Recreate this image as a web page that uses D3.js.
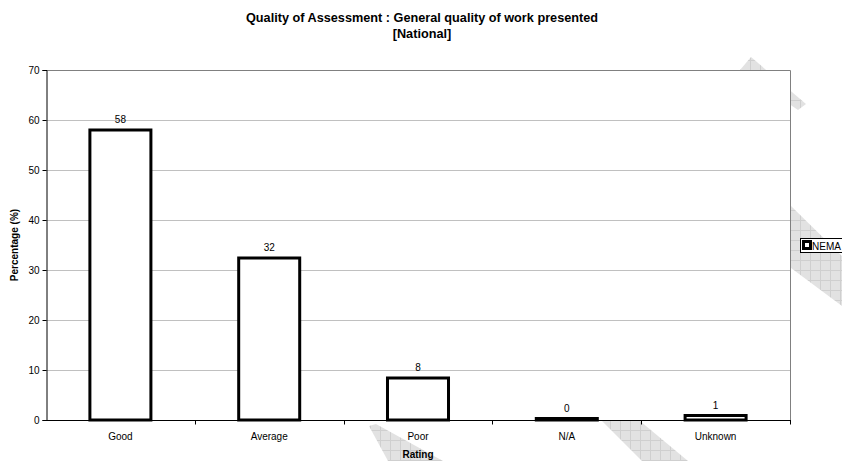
<!DOCTYPE html>
<html lang="en">
<head>
    <meta charset="UTF-8">
    <title>Quality of Assessment</title>
    <script src="https://d3js.org/d3.v7.min.js"></script>
    <style>
        body { margin: 0; background: #fff; }
        text { font-family: 'Liberation Sans', Arial, sans-serif; fill: #000; }
    </style>
</head>
<body>
<script>
    const width  = 842;
    const height = 461;
    const margin = {top: 70, right: 52, bottom: 41, left: 46};

    const categories = ["Good", "Average", "Poor", "N/A", "Unknown"];
    const values     = [58, 32.4, 8.4, 0.3, 0.9];
    const labels     = ["58", "32", "8", "0", "1"];
    const yTicks     = [0, 10, 20, 30, 40, 50, 60, 70];
    const seriesName = "NEMA";

    const svg = d3.select("body").append("svg")
            .attr("width", width).attr("height", height);

    // watermark pattern (grey diagonal bands behind the chart)
    const defs = svg.append("defs");
    const pat = defs.append("pattern").attr("id", "wm")
            .attr("width", 10).attr("height", 10)
            .attr("patternUnits", "userSpaceOnUse");
    pat.append("rect").attr("width", 10).attr("height", 10).attr("fill", "#e2e2e2");
    pat.append("path").attr("d", "M0,0.5H10M0.5,0V10")
            .attr("stroke", "#cfcfcf").attr("stroke-width", 1);

    const bands = [
        [[740, 70], [751, 57], [806, 104], [798, 110]],
        [[791, 206], [842, 256], [842, 306], [791, 268]],
        [[369, 426], [376, 424], [443, 461], [388, 461]],
        [[602, 421], [640, 421], [688, 461], [642, 461]]
    ];
    svg.selectAll(".wm").data(bands).enter().append("polygon")
            .attr("class", "wm")
            .attr("points", d => d.map(p => p.join(",")).join(" "))
            .attr("fill", "url(#wm)");

    const x0 = margin.left, x1 = width - margin.right;
    const y0 = height - margin.bottom, y1 = margin.top;

    const xOuter = d3.scaleBand().domain(categories).range([x0, x1]).padding(0);
    const x = d3.scaleBand().domain(categories).range([x0, x1])
            .paddingInner(0.59).paddingOuter(0.295);
    const y = d3.scaleLinear().domain([0, 70]).range([y0, y1]);

    // plot area
    svg.append("rect")
            .attr("x", x0).attr("y", y1)
            .attr("width", x1 - x0).attr("height", y0 - y1)
            .attr("fill", "#fff");

    // gridlines
    svg.selectAll(".grid").data(yTicks.filter(t => t > 0 && t < 70)).enter()
            .append("line").attr("class", "grid")
            .attr("x1", x0).attr("x2", x1)
            .attr("y1", d => Math.round(y(d)) + 0.5).attr("y2", d => Math.round(y(d)) + 0.5)
            .attr("stroke", "#c0c0c0");

    // top and right border
    svg.append("path")
            .attr("d", "M" + x0 + "," + (y1 + 0.5) + "H" + (x1 + 0.5) + "V" + y0)
            .attr("fill", "none").attr("stroke", "#808080");

    // bars
    svg.selectAll(".bar").data(values).enter().append("rect")
            .attr("class", "bar")
            .attr("x", (d, i) => x(categories[i]))
            .attr("y", d => y(d))
            .attr("width", x.bandwidth())
            .attr("height", d => y0 - y(d))
            .attr("fill", "#fff")
            .attr("stroke", "#000")
            .attr("stroke-width", 3);

    svg.selectAll(".lbl").data(labels).enter().append("text")
            .attr("class", "lbl")
            .attr("x", (d, i) => x(categories[i]) + x.bandwidth() / 2)
            .attr("y", (d, i) => y(values[i]) - 7)
            .attr("text-anchor", "middle")
            .style("font-size", "10px")
            .text(d => d);

    // y axis
    const yAxis = svg.append("g")
            .attr("transform", "translate(" + (x0 + 0.5) + ",0)")
            .call(d3.axisLeft(y).tickValues(yTicks).tickSize(4).tickPadding(3));
    yAxis.select(".domain").attr("stroke", "#000");
    yAxis.selectAll("text").style("font-size", "10px")
            .style("font-family", "'Liberation Sans', Arial, sans-serif");

    // x axis (ticks between categories)
    const xAxis = svg.append("g").attr("transform", "translate(0," + (y0 + 0.5) + ")");
    xAxis.append("line").attr("x1", x0).attr("x2", x1 + 1).attr("stroke", "#000");
    xAxis.selectAll(".tick").data(categories).enter().append("line")
            .attr("x1", d => Math.round(xOuter(d) + xOuter.step()) + 0.5)
            .attr("x2", d => Math.round(xOuter(d) + xOuter.step()) + 0.5)
            .attr("y1", 0).attr("y2", 4).attr("stroke", "#000");
    xAxis.selectAll(".cat").data(categories).enter().append("text")
            .attr("x", d => xOuter(d) + xOuter.step() / 2)
            .attr("y", 19)
            .attr("text-anchor", "middle")
            .style("font-size", "10px")
            .text(d => d);

    // titles
    svg.append("text").attr("x", 422).attr("y", 22).attr("text-anchor", "middle")
            .style("font-size", "12.7px").style("font-weight", "bold")
            .text("Quality of Assessment : General quality of work presented");
    svg.append("text").attr("x", 422).attr("y", 38).attr("text-anchor", "middle")
            .style("font-size", "12.7px").style("font-weight", "bold")
            .text("[National]");

    svg.append("text").attr("x", (x0 + x1) / 2).attr("y", 458).attr("text-anchor", "middle")
            .style("font-size", "10px").style("font-weight", "bold")
            .text("Rating");

    svg.append("text")
            .attr("transform", "translate(18," + ((y0 + y1) / 2) + ") rotate(-90)")
            .attr("text-anchor", "middle")
            .style("font-size", "10px").style("font-weight", "bold")
            .text("Percentage (%)");

    // legend
    const lg = svg.append("g").attr("transform", "translate(800,238)");
    lg.append("rect").attr("x", 0.5).attr("y", 0.5).attr("width", 60).attr("height", 14)
            .attr("fill", "#fff").attr("stroke", "#000");
    lg.append("rect").attr("x", 3.5).attr("y", 3.5).attr("width", 7).attr("height", 7)
            .attr("fill", "#fff").attr("stroke", "#000").attr("stroke-width", 3);
    lg.append("text").attr("x", 12).attr("y", 11.5)
            .style("font-size", "10px").text(seriesName);
</script>
</body>
</html>
